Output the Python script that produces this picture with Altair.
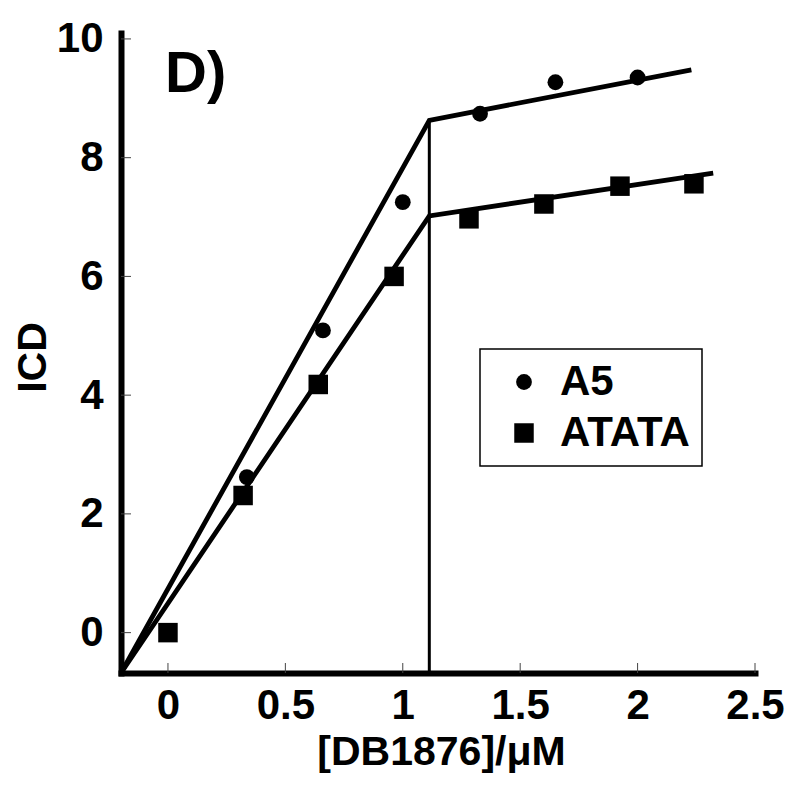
import altair as alt
import pandas as pd

# ---- data ----
series_names = ["A5", "ATATA"]
a5_x = [0.336, 0.66, 1.0, 1.329, 1.65, 2.0]
a5_y = [2.62, 5.09, 7.25, 8.74, 9.27, 9.35]
atata_x = [0.0, 0.32, 0.64, 0.963, 1.282, 1.601, 1.925, 2.24]
atata_y = [0.0, 2.31, 4.18, 6.0, 6.97, 7.22, 7.52, 7.56]

fit_a5_x = [-0.2, 1.113, 2.229]
fit_a5_y = [-0.68, 8.63, 9.48]
fit_atata_x = [-0.2, 1.113, 2.322]
fit_atata_y = [-0.68, 7.02, 7.74]
vline_x = [1.113, 1.113]
vline_y = [-0.68, 8.63]

x_ticks = [0, 0.5, 1, 1.5, 2, 2.5]
y_ticks = [0, 2, 4, 6, 8, 10]
x_domain = [-0.2, 2.5]
y_domain = [-0.68, 10.1]

FONT = "Liberation Sans"
W, H = 634, 640
LBL = 42

pts = pd.DataFrame({
    "x": a5_x + atata_x,
    "y": a5_y + atata_y,
    "series": [series_names[0]] * len(a5_x) + [series_names[1]] * len(atata_x),
})
fits = pd.DataFrame({
    "x": fit_a5_x + fit_atata_x,
    "y": fit_a5_y + fit_atata_y,
    "seg": ["A5"] * len(fit_a5_x) + ["ATATA"] * len(fit_atata_x),
    "ord": list(range(len(fit_a5_x))) + list(range(len(fit_atata_x))),
})
vline = pd.DataFrame({"x": vline_x, "y": vline_y})
xt = pd.DataFrame({"v": x_ticks})
yt = pd.DataFrame({"v": y_ticks})

xs = alt.Scale(domain=x_domain, nice=False, zero=False)
ys = alt.Scale(domain=y_domain, nice=False, zero=False)

xaxis = alt.Axis(
    values=x_ticks, format="~g", title="[DB1876]/μM",
    titleX=320, titleY=91, titleBaseline="alphabetic", titleAlign="center",
    titleFont=FONT, titleFontSize=41, titleFontWeight="bold", titleColor="black",
    labelFont=FONT, labelFontSize=LBL, labelFontWeight="bold", labelColor="black",
    labelBaseline="alphabetic", labelPadding=45, labelFlush=False, labelOverlap=False,
    ticks=False, tickSize=0, grid=False,
    domainWidth=6, domainColor="black", domainCap="square",
)
yaxis = alt.Axis(
    values=y_ticks, format="d", title="ICD",
    titleX=-76, titleY=324, titleBaseline="alphabetic", titleAlign="center", titleAngle=270,
    titleFont=FONT, titleFontSize=41, titleFontWeight="bold", titleColor="black",
    labelFont=FONT, labelFontSize=LBL, labelFontWeight="bold", labelColor="black",
    labelBaseline="middle", labelPadding=18, labelFlush=False, labelOverlap=False,
    ticks=False, tickSize=0, grid=False,
    domainWidth=6, domainColor="black", domainCap="square",
)

def X(field):
    return alt.X(field, scale=xs, axis=xaxis)

def Y(field):
    return alt.Y(field, scale=ys, axis=yaxis)

legend = alt.Legend(
    title=None, orient="none", legendX=359, legendY=316,
    strokeColor="black", fillColor="white",
    padding=12, symbolOffset=11, labelOffset=15, rowPadding=9,
    labelFont=FONT, labelFontSize=LBL, labelFontWeight="bold", labelColor="black",
    symbolFillColor="black", symbolStrokeWidth=0,
)

points = alt.Chart(pts).mark_point(filled=True, opacity=1, color="black", strokeWidth=0).encode(
    x=X("x:Q"), y=Y("y:Q"),
    shape=alt.Shape("series:N", scale=alt.Scale(domain=series_names, range=["circle", "square"]), legend=legend),
    size=alt.Size("series:N", scale=alt.Scale(domain=series_names, range=[250, 380]), legend=legend),
)

fit_lines = alt.Chart(fits).mark_line(color="black", strokeWidth=4.8, strokeJoin="miter").encode(
    x=X("x:Q"), y=Y("y:Q"), detail="seg:N", order="ord:Q",
)

vert = alt.Chart(vline).mark_line(color="black", strokeWidth=3).encode(x=X("x:Q"), y=Y("y:Q"))

xtick_marks = alt.Chart(xt).mark_rule(color="#444", strokeWidth=1).encode(
    x=X("v:Q"), y=alt.value(H), y2=alt.value(H - 10),
)
ytick_marks = alt.Chart(yt).mark_rule(color="#444", strokeWidth=1).encode(
    y=Y("v:Q"), x=alt.value(0), x2=alt.value(10),
)

label = alt.Chart(pd.DataFrame({"t": ["D)"]})).mark_text(
    font=FONT, fontSize=58, fontWeight="bold", color="black", align="left", baseline="alphabetic",
).encode(text="t:N", x=alt.value(44), y=alt.value(59))

chart = alt.layer(xtick_marks, ytick_marks, fit_lines, vert, points, label).properties(
    width=W, height=H,
    autosize=alt.AutoSizeParams(type="none"),
    padding={"left": 113, "top": 25, "right": 30, "bottom": 100},
    background="white",
).configure_view(strokeWidth=0).configure_legend(strokeWidth=1.5)

chart.save("out.html", embed_options={"renderer": "svg", "actions": False})
